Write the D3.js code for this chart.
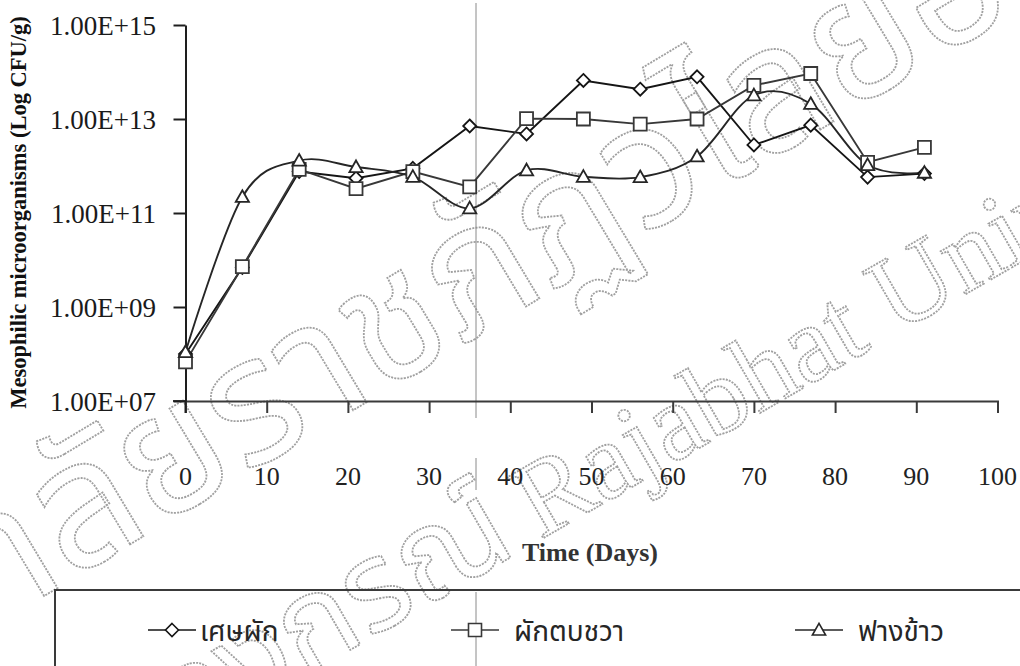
<!DOCTYPE html>
<html>
<head>
<meta charset="utf-8">
<script src="https://cdn.jsdelivr.net/npm/d3@7"></script>
<style>
  html, body { margin: 0; padding: 0; background: #fff; }
  svg { display: block; }
  .serif { font-family: "Liberation Serif", "Times New Roman", serif; }
  .thai { font-family: "Noto Sans Thai", "Tlwg Typist", "Loma", "Garuda", "DejaVu Sans", sans-serif; }
</style>
</head>
<body>
<svg id="chart" width="1020" height="666"></svg>
<script>
// Sampling days
const days = [0, 7, 14, 21, 28, 35, 42, 49, 56, 63, 70, 77, 84, 91];

// Mesophilic counts (CFU/g) per compost material
const vegetableWaste = [1.0e8, 6.9e9, 7.6e11, 5.5e11, 8.9e11, 7.1e12, 4.8e12, 6.6e13, 4.3e13, 7.9e13, 2.8e12, 7.4e12, 5.8e11, 6.9e11];
const waterHyacinth  = [6.8e7, 7.2e9, 8.5e11, 3.3e11, 7.6e11, 3.6e11, 1.02e13, 1.0e13, 7.8e12, 1.0e13, 5.2e13, 9.3e13, 1.2e12, 2.5e12];
const riceStraw      = [1.1e8, 2.2e11, 1.3e12, 9.5e11, 5.9e11, 1.26e11, 8.1e11, 5.9e11, 5.8e11, 1.6e12, 3.2e13, 2.1e13, 1.05e12, 7.2e11];

const seriesNames = ["เศษผัก", "ผักตบชวา", "ฟางข้าว"];

// Axis ticks
const xTickValues = [0, 10, 20, 30, 40, 50, 60, 70, 80, 90, 100];
const yTickValues = [1e7, 1e9, 1e11, 1e13, 1e15];
const yTickLabels = ["1.00E+07", "1.00E+09", "1.00E+11", "1.00E+13", "1.00E+15"];

const xTitle = "Time (Days)";
const yTitle = "Mesophilic microorganisms (Log CFU/g)";

// Background watermark of the source document
const watermarkThai1 = "มหาวิทยาลัยราชภัฏวไลยอลงกรณ์";
const watermarkThai2 = "วไลยอลงกรณ์";
const watermarkLatin = "Rajabhat University";

const svg = d3.select("#chart");

// ---- watermark (outlined, dotted grey) ----
const wm = svg.append("g").attr("fill", "none").attr("stroke", "#a0a0a0")
  .attr("stroke-width", 1.8).attr("stroke-dasharray", "2 1.2");
wm.append("text").attr("class", "thai")
  .attr("transform", "translate(500,322) rotate(-31)")
  .attr("text-anchor", "middle").attr("font-size", 175)
  .text(watermarkThai1);
wm.append("text").attr("class", "thai")
  .attr("transform", "translate(520,552) rotate(-30)")
  .attr("text-anchor", "end").attr("font-size", 125)
  .text(watermarkThai2);
wm.append("text").attr("class", "serif")
  .attr("transform", "translate(540,540) rotate(-30)")
  .attr("text-anchor", "start").attr("font-size", 108)
  .text(watermarkLatin);

// ---- scales ----
const x = d3.scaleLinear().domain([0, 100]).range([185.5, 997.5]);
const y = d3.scaleLog().domain([1e7, 1e15]).range([401, 25]);

// ---- vertical crease line across the page ----
const crease = [[3, 418], [458, 490], [592, 666]];
svg.append("g").selectAll("line").data(crease).join("line")
  .attr("x1", 476).attr("x2", 476)
  .attr("y1", d => d[0]).attr("y2", d => d[1])
  .attr("stroke", "#8a8a8a").attr("stroke-width", 1);

// ---- axes ----
const axisColor = "#1e1e1e";
const xAxis = svg.append("g").attr("transform", `translate(0,${y(1e7)})`)
  .call(d3.axisBottom(x).tickValues(xTickValues).tickSize(12).tickSizeOuter(12).tickFormat(""));
xAxis.select(".domain").attr("stroke", "#3a3a3a").attr("stroke-width", 2);
xAxis.selectAll(".tick line").attr("stroke", "#3a3a3a").attr("stroke-width", 2);
// the x axis line continues left to meet the lowest y tick
svg.append("line").attr("x1", x(0) - 12.5).attr("x2", x(0))
  .attr("y1", y(1e7)).attr("y2", y(1e7)).attr("stroke", "#3a3a3a").attr("stroke-width", 2);

svg.append("g").selectAll("text").data(xTickValues).join("text")
  .attr("class", "serif").attr("x", d => x(d)).attr("y", 485)
  .attr("text-anchor", "middle").attr("font-size", 26).attr("fill", "#222")
  .text(d => d);

const yAxis = svg.append("g").attr("transform", `translate(${x(0)},0)`)
  .call(d3.axisLeft(y).tickValues(yTickValues).tickSize(12).tickSizeOuter(0).tickFormat(""));
yAxis.select(".domain").attr("stroke", axisColor).attr("stroke-width", 2);
yAxis.selectAll(".tick line").attr("stroke", axisColor).attr("stroke-width", 2);
// y axis runs down to the x axis tick depth
svg.append("line").attr("x1", x(0)).attr("x2", x(0))
  .attr("y1", y(1e7)).attr("y2", y(1e7) + 12).attr("stroke", axisColor).attr("stroke-width", 2);

svg.append("g").selectAll("text").data(yTickValues).join("text")
  .attr("class", "serif").attr("x", 156).attr("y", d => y(d) + 10)
  .attr("text-anchor", "end").attr("font-size", 27).attr("fill", "#1a1a1a")
  .text((d, i) => yTickLabels[i]);

// axis titles
svg.append("text").attr("class", "serif")
  .attr("transform", `translate(26,${(15 + 410) / 2}) rotate(-90)`)
  .attr("text-anchor", "middle").attr("font-size", 22.5).attr("font-weight", "bold")
  .attr("fill", "#111").text(yTitle);
svg.append("text").attr("class", "serif")
  .attr("x", 590).attr("y", 561).attr("text-anchor", "middle")
  .attr("font-size", 26).attr("font-weight", "bold").attr("fill", "#333")
  .text(xTitle);

// ---- series ----
const diamond = s => `M0,${-s}L${s},0L0,${s}L${-s},0Z`;
const square = s => `M${-s},${-s}H${s}V${s}H${-s}Z`;
const triangle = s => `M0,${-s * 1.05}L${s * 1.05},${s * 0.8}H${-s * 1.05}Z`;

const series = [
  { name: seriesNames[0], values: vegetableWaste, marker: diamond(6.5), color: "#151515", curve: d3.curveLinear },
  { name: seriesNames[1], values: waterHyacinth, marker: square(6.5), color: "#383838", curve: d3.curveLinear },
  { name: seriesNames[2], values: riceStraw, marker: triangle(6.3), color: "#262626", curve: d3.curveCardinal.tension(0) }
];

series.forEach(s => {
  const pts = days.map((d, i) => [d, s.values[i]]);
  const line = d3.line().x(p => x(p[0])).y(p => y(p[1])).curve(s.curve);
  svg.append("path").datum(pts).attr("d", line)
    .attr("fill", "none").attr("stroke", s.color).attr("stroke-width", 1.9);
});
series.forEach(s => {
  svg.append("g").selectAll("path").data(days.map((d, i) => [d, s.values[i]])).join("path")
    .attr("transform", p => `translate(${x(p[0])},${y(p[1])})`)
    .attr("d", s.marker).attr("fill", "#fff").attr("stroke", s.color).attr("stroke-width", 1.8);
});

// ---- legend ----
const lg = svg.append("g");
lg.append("path").attr("d", "M55,666V590H1020").attr("fill", "none")
  .attr("stroke", "#3a3a3a").attr("stroke-width", 2);
const legendX = [172, 475, 819];
const legendTextX = [200, 514, 858];
series.forEach((s, i) => {
  const cx = legendX[i];
  lg.append("line").attr("x1", cx - 24).attr("x2", cx + 24).attr("y1", 630).attr("y2", 630)
    .attr("stroke", s.color).attr("stroke-width", 1.6);
  lg.append("path").attr("transform", `translate(${cx},630)`).attr("d", s.marker)
    .attr("fill", "#fff").attr("stroke", s.color).attr("stroke-width", 1.6);
  lg.append("text").attr("class", "thai").attr("x", legendTextX[i]).attr("y", 641)
    .attr("font-size", 28).attr("fill", "#262626").text(s.name);
});
</script>
</body>
</html>
